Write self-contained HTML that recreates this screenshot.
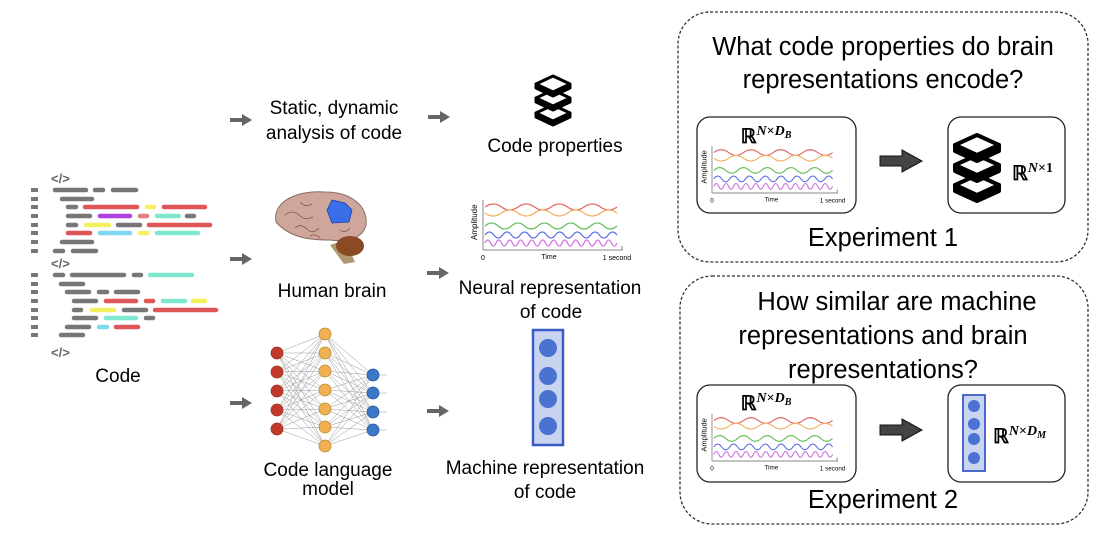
<!DOCTYPE html>
<html><head><meta charset="utf-8"><style>
html,body{margin:0;padding:0;background:#fff;}
svg{display:block;font-family:"Liberation Sans","DejaVu Sans",sans-serif;}
</style></head><body>
<svg width="1102" height="536" viewBox="0 0 1102 536" xmlns="http://www.w3.org/2000/svg">
<defs>
<g id="ar"><rect x="0" y="-2" width="13" height="4" fill="#666"/><polygon points="12,-6 22,0 12,6" fill="#666"/></g>
<g id="plot">
<line x1="0" y1="0" x2="0" y2="50" stroke="#888" stroke-width="1"/>
<line x1="0" y1="50" x2="140" y2="50" stroke="#888" stroke-width="1"/>
<line x1="139" y1="46" x2="139" y2="50" stroke="#888" stroke-width="1"/>
<path d="M2,7 Q10.25,1 18.5,7 T35,7 T51.5,7 T68,7 T84.5,7 T101,7 T117.5,7 T134,7" fill="none" stroke="#e06666" stroke-width="1.2"/>
<path d="M2,13 Q10.25,19 18.5,13 T35,13 T51.5,13 T68,13 T84.5,13 T101,13 T117.5,13 T134,13" fill="none" stroke="#f0b060" stroke-width="1.2"/>
<path d="M2,26 Q8.6,20 15.2,26 T28.4,26 T41.6,26 T54.8,26 T68,26 T81.2,26 T94.4,26 T107.6,26 T120.8,26 T134,26" fill="none" stroke="#6abf5a" stroke-width="1.2"/>
<path d="M2,35 Q6.4,29 10.8,35 T19.6,35 T28.4,35 T37.2,35 T46,35 T54.8,35 T63.6,35 T72.4,35 T81.2,35 T90,35 T98.8,35 T107.6,35 T116.4,35 T125.2,35 T134,35" fill="none" stroke="#5a6ee0" stroke-width="1.2"/>
<path d="M2,43 Q4.75,37 7.5,43 T13,43 T18.5,43 T24,43 T29.5,43 T35,43 T40.5,43 T46,43 T51.5,43 T57,43 T62.5,43 T68,43 T73.5,43 T79,43 T84.5,43 T90,43 T95.5,43 T101,43 T106.5,43 T112,43 T117.5,43 T123,43 T128.5,43 T134,43" fill="none" stroke="#d070e0" stroke-width="1.2"/>
<text x="0" y="60" font-size="7" text-anchor="middle">0</text>
<text x="66" y="59" font-size="7" text-anchor="middle">Time</text>
<text x="134" y="60" font-size="7" text-anchor="middle">1 second</text>
<text transform="translate(-6,40) rotate(-90)" font-size="8">Amplitude</text>
</g>
</defs>

<!-- code icon -->
<g font-size="13" fill="#666" font-weight="bold"><text x="51" y="183">&lt;/&gt;</text><text x="51" y="268">&lt;/&gt;</text><text x="51" y="357">&lt;/&gt;</text></g>
<g fill="#777">
<rect x="31" y="188" width="7" height="4"/><rect x="31" y="197" width="7" height="4"/><rect x="31" y="205" width="7" height="4"/><rect x="31" y="214" width="7" height="4"/><rect x="31" y="223" width="7" height="4"/><rect x="31" y="231" width="7" height="4"/><rect x="31" y="240" width="7" height="4"/><rect x="31" y="249" width="7" height="4"/>
<rect x="31" y="273" width="7" height="4"/><rect x="31" y="282" width="7" height="4"/><rect x="31" y="290" width="7" height="4"/><rect x="31" y="299" width="7" height="4"/><rect x="31" y="308" width="7" height="4"/><rect x="31" y="316" width="7" height="4"/><rect x="31" y="325" width="7" height="4"/><rect x="31" y="333" width="7" height="4"/>
</g>
<g stroke-width="4.5" stroke-linecap="round">
<line x1="55" y1="190" x2="86" y2="190" stroke="#777"/><line x1="95" y1="190" x2="103" y2="190" stroke="#777"/><line x1="113" y1="190" x2="136" y2="190" stroke="#777"/>
<line x1="62" y1="199" x2="92" y2="199" stroke="#777"/>
<line x1="68" y1="207" x2="76" y2="207" stroke="#777"/><line x1="85" y1="207" x2="137" y2="207" stroke="#e05555"/><line x1="147" y1="207" x2="154" y2="207" stroke="#f5f060"/><line x1="164" y1="207" x2="205" y2="207" stroke="#e05555"/>
<line x1="68" y1="216" x2="90" y2="216" stroke="#777"/><line x1="100" y1="216" x2="130" y2="216" stroke="#b040e0"/><line x1="140" y1="216" x2="147" y2="216" stroke="#e08080"/><line x1="157" y1="216" x2="179" y2="216" stroke="#80e8d0"/><line x1="187" y1="216" x2="194" y2="216" stroke="#777"/>
<line x1="68" y1="225" x2="76" y2="225" stroke="#777"/><line x1="86" y1="225" x2="109" y2="225" stroke="#f5f060"/><line x1="118" y1="225" x2="140" y2="225" stroke="#777"/><line x1="149" y1="225" x2="210" y2="225" stroke="#e05555"/>
<line x1="68" y1="233" x2="90" y2="233" stroke="#e05555"/><line x1="100" y1="233" x2="130" y2="233" stroke="#80d8f0"/><line x1="140" y1="233" x2="147" y2="233" stroke="#f5f060"/><line x1="157" y1="233" x2="198" y2="233" stroke="#80e8d0"/>
<line x1="62" y1="242" x2="92" y2="242" stroke="#777"/>
<line x1="55" y1="251" x2="63" y2="251" stroke="#777"/><line x1="73" y1="251" x2="96" y2="251" stroke="#777"/>
<line x1="55" y1="275" x2="63" y2="275" stroke="#777"/><line x1="72" y1="275" x2="124" y2="275" stroke="#777"/><line x1="134" y1="275" x2="141" y2="275" stroke="#777"/><line x1="150" y1="275" x2="192" y2="275" stroke="#80e8d0"/>
<line x1="61" y1="284" x2="83" y2="284" stroke="#777"/>
<line x1="67" y1="292" x2="89" y2="292" stroke="#777"/><line x1="99" y1="292" x2="107" y2="292" stroke="#777"/><line x1="116" y1="292" x2="138" y2="292" stroke="#777"/>
<line x1="74" y1="301" x2="96" y2="301" stroke="#777"/><line x1="106" y1="301" x2="136" y2="301" stroke="#e05555"/><line x1="146" y1="301" x2="153" y2="301" stroke="#e05555"/><line x1="163" y1="301" x2="185" y2="301" stroke="#80e8d0"/><line x1="193" y1="301" x2="205" y2="301" stroke="#f5f060"/>
<line x1="74" y1="310" x2="81" y2="310" stroke="#777"/><line x1="92" y1="310" x2="114" y2="310" stroke="#f5f060"/><line x1="124" y1="310" x2="146" y2="310" stroke="#777"/><line x1="155" y1="310" x2="216" y2="310" stroke="#e05555"/>
<line x1="74" y1="318" x2="96" y2="318" stroke="#777"/><line x1="106" y1="318" x2="136" y2="318" stroke="#80e8d0"/><line x1="146" y1="318" x2="153" y2="318" stroke="#777"/>
<line x1="67" y1="327" x2="89" y2="327" stroke="#777"/><line x1="99" y1="327" x2="107" y2="327" stroke="#80d8f0"/><line x1="116" y1="327" x2="138" y2="327" stroke="#e05555"/>
<line x1="61" y1="335" x2="83" y2="335" stroke="#777"/>
</g>
<text x="118" y="382" font-size="19" text-anchor="middle">Code</text>

<!-- arrows -->
<use href="#ar" x="230" y="120"/><use href="#ar" x="428" y="117"/>
<use href="#ar" x="230" y="259"/><use href="#ar" x="427" y="273"/>
<use href="#ar" x="230" y="403"/><use href="#ar" x="427" y="411"/>

<!-- row 1 -->
<text x="334" y="114" font-size="19" text-anchor="middle">Static, dynamic</text>
<text x="334" y="139" font-size="19" text-anchor="middle">analysis of code</text>
<g stroke="#000" stroke-width="3" stroke-linejoin="round">
<g transform="translate(553,105)"><polygon points="-17,8 0,16 17,8 17,12 0,20 -17,12" fill="#000"/><polygon points="0,0 17,8 0,16 -17,8" fill="#fff"/></g>
<g transform="translate(553,90)"><polygon points="-17,8 0,16 17,8 17,12 0,20 -17,12" fill="#000"/><polygon points="0,0 17,8 0,16 -17,8" fill="#fff"/></g>
<g transform="translate(553,76)"><polygon points="-17,8 0,16 17,8 17,12 0,20 -17,12" fill="#000"/><polygon points="0,0 17,8 0,16 -17,8" fill="#fff"/></g>
</g>
<text x="555" y="152" font-size="19" text-anchor="middle">Code properties</text>

<!-- brain -->
<polygon points="330,245 345,240 355,262 344,264" fill="#b09870"/>
<path d="M276,222 C272,200 300,190 325,192 C350,192 368,205 366,225 C362,240 345,242 330,240 C310,240 290,238 276,222 Z" fill="#cfa69c" stroke="#8a6a60" stroke-width="1"/>
<ellipse cx="350" cy="246" rx="14" ry="10" fill="#8a4a22"/>
<path d="M327,210 L332,200 L345,203 L352,210 L349,222 L332,223 Z" fill="#3a6ee8" stroke="#2040a0" stroke-width="0.8"/>
<path d="M285,215 q8,-6 14,0 t14,2 M295,228 q6,-5 12,1 t12,-1 M300,202 q5,6 12,2 M350,228 q-5,6 -10,2 M310,236 q6,-3 10,2" fill="none" stroke="#7a5a50" stroke-width="0.8"/>
<text x="332" y="297" font-size="19" text-anchor="middle">Human brain</text>

<!-- neural plot -->
<use href="#plot" x="483" y="200"/>
<text x="550" y="294" font-size="19" text-anchor="middle">Neural representation</text>
<text x="551" y="318" font-size="19" text-anchor="middle">of code</text>

<!-- NN -->
<g stroke="#999" stroke-width="0.5">
<path d="M277,353 L325,334 M277,353 L325,353 M277,353 L325,371 M277,353 L325,390 M277,353 L325,409 M277,353 L325,427 M277,353 L325,446
M277,372 L325,334 M277,372 L325,353 M277,372 L325,371 M277,372 L325,390 M277,372 L325,409 M277,372 L325,427 M277,372 L325,446
M277,391 L325,334 M277,391 L325,353 M277,391 L325,371 M277,391 L325,390 M277,391 L325,409 M277,391 L325,427 M277,391 L325,446
M277,410 L325,334 M277,410 L325,353 M277,410 L325,371 M277,410 L325,390 M277,410 L325,409 M277,410 L325,427 M277,410 L325,446
M277,429 L325,334 M277,429 L325,353 M277,429 L325,371 M277,429 L325,390 M277,429 L325,409 M277,429 L325,427 M277,429 L325,446
M373,375 L325,334 M373,375 L325,353 M373,375 L325,371 M373,375 L325,390 M373,375 L325,409 M373,375 L325,427 M373,375 L325,446
M373,393 L325,334 M373,393 L325,353 M373,393 L325,371 M373,393 L325,390 M373,393 L325,409 M373,393 L325,427 M373,393 L325,446
M373,412 L325,334 M373,412 L325,353 M373,412 L325,371 M373,412 L325,390 M373,412 L325,409 M373,412 L325,427 M373,412 L325,446
M373,430 L325,334 M373,430 L325,353 M373,430 L325,371 M373,430 L325,390 M373,430 L325,409 M373,430 L325,427 M373,430 L325,446
M373,375 L387,375 M373,393 L387,393 M373,412 L387,412 M373,430 L387,430"/>
</g>
<g fill="#c0392b" stroke="#a03020" stroke-width="0.8"><circle cx="277" cy="353" r="6"/><circle cx="277" cy="372" r="6"/><circle cx="277" cy="391" r="6"/><circle cx="277" cy="410" r="6"/><circle cx="277" cy="429" r="6"/></g>
<g fill="#eeb050" stroke="#c08a30" stroke-width="0.8"><circle cx="325" cy="334" r="6"/><circle cx="325" cy="353" r="6"/><circle cx="325" cy="371" r="6"/><circle cx="325" cy="390" r="6"/><circle cx="325" cy="409" r="6"/><circle cx="325" cy="427" r="6"/><circle cx="325" cy="446" r="6"/></g>
<g fill="#3a78c8" stroke="#2a5898" stroke-width="0.8"><circle cx="373" cy="375" r="6"/><circle cx="373" cy="393" r="6"/><circle cx="373" cy="412" r="6"/><circle cx="373" cy="430" r="6"/></g>
<text x="328" y="476" font-size="19" text-anchor="middle">Code language</text>
<text x="328" y="495" font-size="19" text-anchor="middle">model</text>

<!-- machine vector -->
<rect x="533" y="330" width="30" height="115" fill="#c8d4f0" stroke="#3a5cc8" stroke-width="2.5"/>
<g fill="#4a72d0"><circle cx="548" cy="348" r="9"/><circle cx="548" cy="376" r="9"/><circle cx="548" cy="399" r="9"/><circle cx="548" cy="426" r="9"/></g>
<text x="545" y="474" font-size="19" text-anchor="middle">Machine representation</text>
<text x="545" y="498" font-size="19" text-anchor="middle">of code</text>

<!-- Experiment 1 -->
<rect x="678" y="12" width="410" height="250" rx="32" fill="none" stroke="#333" stroke-width="1.3" stroke-dasharray="3,2"/>
<text x="883" y="55" font-size="25.5" text-anchor="middle">What code properties do brain</text>
<text x="883" y="88" font-size="25.5" text-anchor="middle">representations encode?</text>
<rect x="697" y="117" width="159" height="96" rx="13" fill="none" stroke="#222" stroke-width="1.3"/>
<text x="766" y="143" font-size="20" font-family="Liberation Serif,serif" font-weight="bold" text-anchor="middle">ℝ<tspan font-style="italic" font-size="14" dy="-8">N</tspan><tspan font-size="14">×</tspan><tspan font-style="italic" font-size="14">D</tspan><tspan font-style="italic" font-size="10" dy="3">B</tspan></text>
<use href="#plot" transform="translate(712,146) scale(0.9,0.94)"/>
<polygon points="880,156 902,156 902,150 922,161 902,172 902,166 880,166" fill="#444" stroke="#111" stroke-width="1"/>
<rect x="948" y="117" width="117" height="96" rx="13" fill="none" stroke="#222" stroke-width="1.3"/>
<g stroke="#000" stroke-width="4" stroke-linejoin="round">
<g transform="translate(977,175)"><polygon points="-22,10 0,20 22,10 22,16 0,26 -22,16" fill="#000"/><polygon points="0,0 22,10 0,20 -22,10" fill="#fff"/></g>
<g transform="translate(977,155)"><polygon points="-22,10 0,20 22,10 22,16 0,26 -22,16" fill="#000"/><polygon points="0,0 22,10 0,20 -22,10" fill="#fff"/></g>
<g transform="translate(977,135)"><polygon points="-22,10 0,20 22,10 22,16 0,26 -22,16" fill="#000"/><polygon points="0,0 22,10 0,20 -22,10" fill="#fff"/></g>
</g>
<text x="1012" y="180" font-size="20" font-family="Liberation Serif,serif" font-weight="bold">ℝ<tspan font-style="italic" font-size="14" dy="-8">N</tspan><tspan font-size="14">×1</tspan></text>
<text x="883" y="246" font-size="25.5" text-anchor="middle">Experiment 1</text>

<!-- Experiment 2 -->
<rect x="680" y="276" width="408" height="248" rx="32" fill="none" stroke="#333" stroke-width="1.3" stroke-dasharray="3,2"/>
<text x="897" y="310" font-size="25.5" text-anchor="middle">How similar are machine</text>
<text x="883" y="344" font-size="25.5" text-anchor="middle">representations and brain</text>
<text x="883" y="378" font-size="25.5" text-anchor="middle">representations?</text>
<rect x="697" y="385" width="159" height="97" rx="13" fill="none" stroke="#222" stroke-width="1.3"/>
<text x="766" y="410" font-size="20" font-family="Liberation Serif,serif" font-weight="bold" text-anchor="middle">ℝ<tspan font-style="italic" font-size="14" dy="-8">N</tspan><tspan font-size="14">×</tspan><tspan font-style="italic" font-size="14">D</tspan><tspan font-style="italic" font-size="10" dy="3">B</tspan></text>
<use href="#plot" transform="translate(712,414) scale(0.9,0.94)"/>
<polygon points="880,425 902,425 902,419 922,430 902,441 902,435 880,435" fill="#444" stroke="#111" stroke-width="1"/>
<rect x="948" y="385" width="117" height="97" rx="13" fill="none" stroke="#222" stroke-width="1.3"/>
<rect x="963" y="395" width="22" height="76" fill="#c8d4f0" stroke="#3a5cc8" stroke-width="1.8"/>
<g fill="#4a72d0"><circle cx="974" cy="406" r="6"/><circle cx="974" cy="424" r="6"/><circle cx="974" cy="439" r="6"/><circle cx="974" cy="458" r="6"/></g>
<text x="993" y="443" font-size="20" font-family="Liberation Serif,serif" font-weight="bold">ℝ<tspan font-style="italic" font-size="14" dy="-8">N</tspan><tspan font-size="14">×</tspan><tspan font-style="italic" font-size="14">D</tspan><tspan font-style="italic" font-size="10" dy="3">M</tspan></text>
<text x="883" y="508" font-size="25.5" text-anchor="middle">Experiment 2</text>
</svg>
</body></html>
